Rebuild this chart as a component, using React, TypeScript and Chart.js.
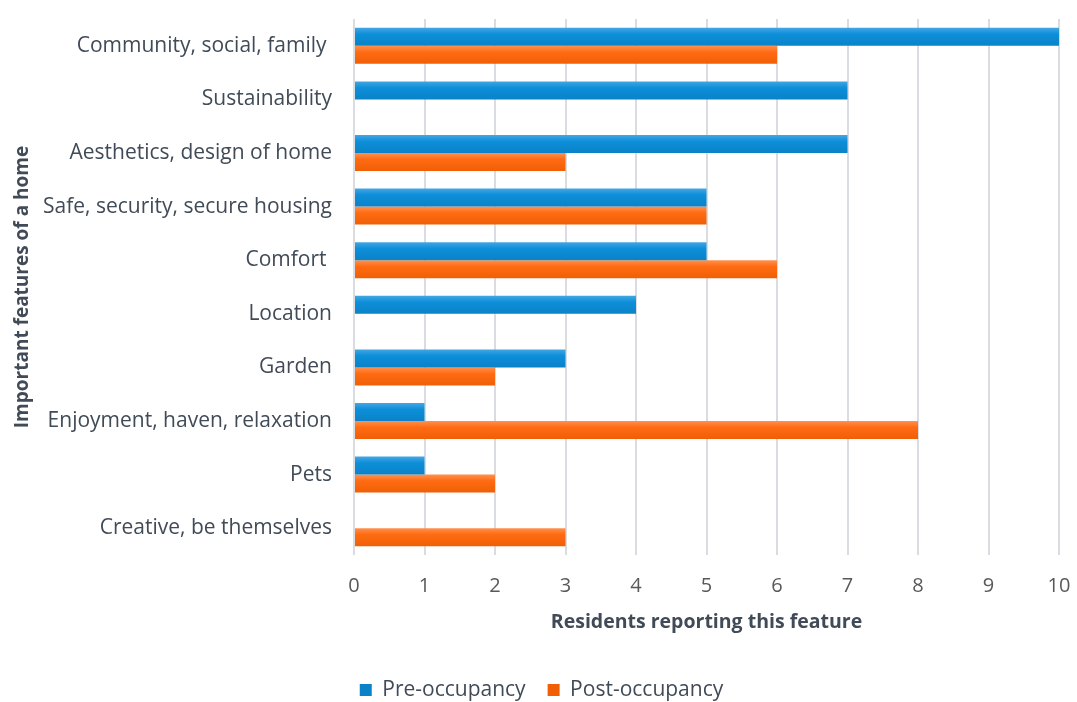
import React, { useEffect, useRef } from "react";
import { Chart, registerables } from "chart.js";

Chart.register(...registerables);

const categories = [
  "Community, social, family ",
  "Sustainability",
  "Aesthetics, design of home",
  "Safe, security, secure housing",
  "Comfort ",
  "Location",
  "Garden",
  "Enjoyment, haven, relaxation",
  "Pets",
  "Creative, be themselves",
];
const preOccupancy = [10, 7, 7, 5, 5, 4, 3, 1, 1, 0];
const postOccupancy = [6, 0, 3, 5, 6, 0, 2, 8, 2, 3];
const xTicks = [0, 1, 2, 3, 4, 5, 6, 7, 8, 9, 10];

const FONT = "'Open Sans', sans-serif";
const TEXT = "#404b57";
const BLUE = ["#45a6e4", "#0d8fd9", "#0a82c8"];
const ORANGE = ["#ff9050", "#ff6b12", "#f05f05"];
const CAT_PCT = 0.672;

function barFill(stops: string[], side: number) {
  return (ctx: any) => {
    const chart = ctx.chart;
    const y = chart.scales && chart.scales.y;
    if (ctx.dataIndex === undefined || !y || y.top === undefined) return stops[1];
    const center = y.getPixelForValue(ctx.dataIndex);
    const band = (y.bottom - y.top) / categories.length;
    const h = (band * CAT_PCT) / 2;
    const top = side === 0 ? center - h : center;
    const g = chart.ctx.createLinearGradient(0, top, 0, top + h);
    g.addColorStop(0, stops[0]);
    g.addColorStop(0.35, stops[1]);
    g.addColorStop(1, stops[2]);
    return g;
  };
}

const legendShift = {
  id: "legendShift",
  afterLayout(chart: any) {
    const l = chart.legend;
    if (l) {
      l.left += 12;
      l.right += 12;
    }
  },
};

export default function App() {
  const ref = useRef<HTMLCanvasElement | null>(null);
  useEffect(() => {
    document.body.style.margin = "0";
    const chart = new Chart(ref.current!, {
      type: "bar",
      plugins: [legendShift],
      data: {
        labels: categories,
        datasets: [
          {
            label: "Pre-occupancy",
            data: preOccupancy,
            backgroundColor: barFill(BLUE, 0) as any,
            borderWidth: 0,
            categoryPercentage: CAT_PCT,
            barPercentage: 1,
          },
          {
            label: "Post-occupancy",
            data: postOccupancy,
            backgroundColor: barFill(ORANGE, 1) as any,
            borderWidth: 0,
            categoryPercentage: CAT_PCT,
            barPercentage: 1,
          },
        ],
      },
      options: {
        indexAxis: "y",
        animation: false,
        responsive: false,
        devicePixelRatio: 1,
        layout: { padding: { top: 19, right: 18, left: 0, bottom: -8.5 } },
        plugins: {
          tooltip: { enabled: false },
          legend: {
            position: "bottom",
            labels: {
              boxWidth: 12,
              boxHeight: 12,
              padding: 22,
              color: TEXT,
              font: { family: FONT, size: 21 },
            },
          },
        },
        scales: {
          x: {
            min: 0,
            max: 10,
            afterBuildTicks: (s: any) => {
              s.ticks = xTicks.map((v) => ({ value: v }));
            },
            afterFit: (s: any) => {
              s.height = 102.5;
              s.paddingLeft = 0;
              s.paddingRight = 0;
            },
            grid: { color: "#d9dde2", lineWidth: 2, drawTicks: false },
            border: { display: false },
            ticks: {
              padding: 19,
              color: "#595959",
              font: { family: FONT, size: 20 },
            },
            title: {
              display: true,
              text: "Residents reporting this feature",
              color: TEXT,
              font: { family: FONT, size: 19.5, weight: "bold" },
              padding: { top: 0, bottom: 23.8 },
            },
          },
          y: {
            afterFit: (s: any) => {
              s.width = 354;
              s.paddingTop = 0;
              s.paddingBottom = 0;
            },
            grid: { display: false, drawTicks: false },
            border: { display: false },
            ticks: {
              padding: 22,
              color: TEXT,
              font: { family: FONT, size: 21 },
            },
            title: {
              display: true,
              text: "Important features of a home",
              color: TEXT,
              font: { family: FONT, size: 19, weight: "bold" },
              padding: { top: 11.5, bottom: 0 },
            },
          },
        },
      },
    });
    return () => chart.destroy();
  }, []);
  return (
    <div style={{ position: "absolute", left: 0, top: 0, width: 1077, height: 702 }}>
      <canvas ref={ref} width={1077} height={702} />
    </div>
  );
}
